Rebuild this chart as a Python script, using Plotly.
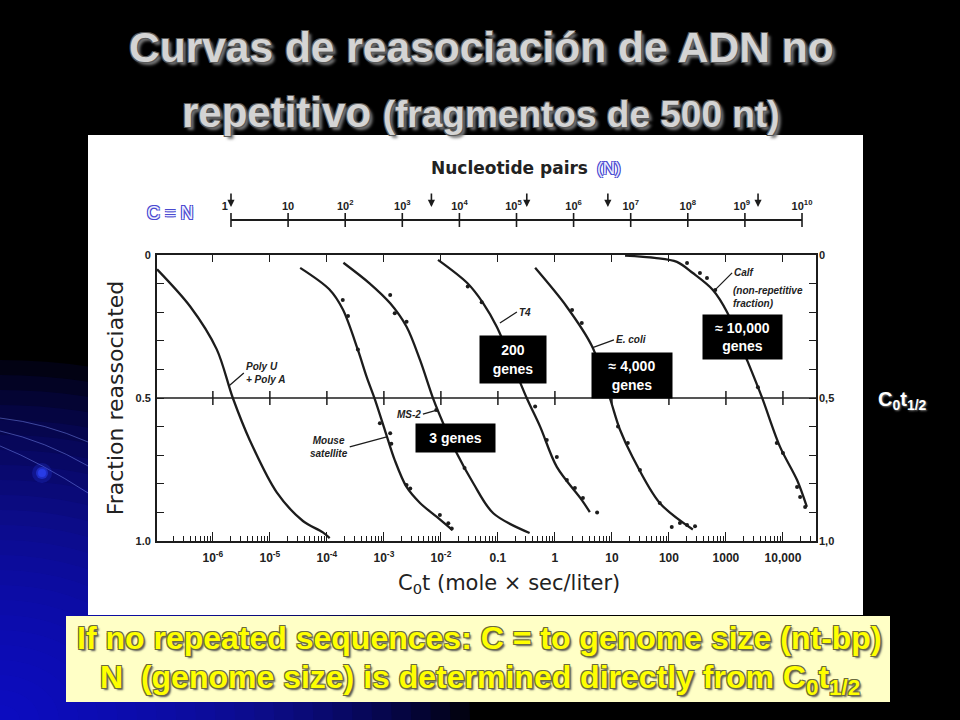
import plotly.graph_objects as go

W, H = 960, 720


def pxp(x):
    return x / W


def pyp(y):
    return 1 - y / H


# ---------------- data ----------------
cot_tick_vals = [1e-6, 1e-5, 1e-4, 1e-3, 1e-2, 0.1, 1, 10, 100, 1000, 10000]
cot_tick_text = ["10<sup>-6</sup>", "10<sup>-5</sup>", "10<sup>-4</sup>", "10<sup>-3</sup>",
                 "10<sup>-2</sup>", "0.1", "1", "10", "100", "1000", "10,000"]

n_tick_vals = [1, 1e1, 1e2, 1e3, 1e4, 1e5, 1e6, 1e7, 1e8, 1e9, 1e10]
n_tick_text = ["1\u00a0\u00a0\u00a0\u00a0", "10", "10<sup>2</sup>", "10<sup>3</sup>", "10<sup>4</sup>",
               "10<sup>5</sup>\u00a0\u00a0", "10<sup>6</sup>", "10<sup>7</sup>", "10<sup>8</sup>",
               "10<sup>9</sup>\u00a0\u00a0", "10<sup>10</sup>"]

frac_tick_vals = [0, 0.5, 1.0]
frac_tick_text_left = ["0", "0.5", "1.0"]
frac_tick_text_right = ["0", "0,5", "1,0"]

# genome-size arrows on the nucleotide-pair scale (log10 N)
genome_arrow_log10N = [0.0, 3.51, 5.18, 6.60, 9.23]

polyU_cot = [1.05e-7, 4.0e-7, 1.17e-6, 2.24e-6, 4.5e-6, 1.32e-5, 3.8e-5, 8.5e-5, 1.12e-4]
polyU_frac = [0.05, 0.18, 0.33, 0.50, 0.65, 0.83, 0.93, 0.97, 0.99]

mouse_cot = [3.4e-5, 1.1e-4, 1.9e-4, 3.5e-4, 5.0e-4, 6.9e-4, 1.04e-3, 1.55e-3,
             2.5e-3, 4.3e-3, 8.5e-3, 1.6e-2]
mouse_frac = [0.045, 0.12, 0.19, 0.332, 0.427, 0.503, 0.612, 0.717,
              0.811, 0.867, 0.916, 0.962]

ms2_cot = [1.95e-4, 5.6e-4, 1.29e-3, 2.5e-3, 4.3e-3, 7.4e-3, 1.1e-2, 1.9e-2, 3.7e-2, 8.3e-2, 0.36]
ms2_frac = [0.027, 0.099, 0.169, 0.251, 0.367, 0.505, 0.589, 0.693, 0.798, 0.903, 0.972]

t4_cot = [8.9e-3, 2.9e-2, 5.5e-2, 9.6e-2, 0.32, 0.55, 1.08, 2.97, 4.1]
t4_frac = [0.017, 0.098, 0.168, 0.252, 0.50, 0.60, 0.741, 0.857, 0.899]

ecoli_cot = [0.45, 1.6, 4.5, 9.2, 13.8, 23, 69, 263]
ecoli_frac = [0.045, 0.18, 0.32, 0.50, 0.61, 0.706, 0.867, 0.96]

calf_cot = [17, 56, 138, 263, 590, 1050, 2340, 4270, 8900, 17700, 26300]
calf_frac = [0.002, 0.01, 0.024, 0.063, 0.122, 0.20, 0.367, 0.497, 0.671, 0.787, 0.881]

# measured points (dots)
dots_cot = [1.9e-4, 2.35e-4, 3.5e-4, 8.5e-4, 1.29e-3, 1.35e-3, 2.5e-3, 2.9e-3, 9.6e-3, 1.35e-2, 1.55e-2,
            1.29e-3, 1.55e-3, 2.5e-3, 8.3e-3, 2.6e-2,
            2.96e-2, 5.2e-2, 0.45, 0.72, 1.08, 1.62, 2.24, 3.1, 5.5,
            2.0, 2.96, 12.8, 19, 31, 69, 112, 156, 208, 287,
            208, 350, 465, 650, 3640, 7800, 10000, 17700, 20000, 24500]
dots_frac = [0.157, 0.213, 0.33, 0.588, 0.623, 0.66, 0.804, 0.816, 0.909, 0.938, 0.956,
             0.14, 0.204, 0.233, 0.542, 0.745,
             0.11, 0.165, 0.53, 0.647, 0.706, 0.787, 0.815, 0.85, 0.90,
             0.192, 0.238, 0.60, 0.657, 0.752, 0.867, 0.951, 0.937, 0.944, 0.948,
             0.028, 0.063, 0.08, 0.122, 0.462, 0.657, 0.692, 0.811, 0.846, 0.881]

# ---------------- figure ----------------
ink = "#1c1c1c"
txt = "#222222"
base_font = "Liberation Sans, Arial, sans-serif"
hand_font = "DejaVu Sans, Noto Sans, sans-serif"

fig = go.Figure()

for cx, cy in [(polyU_cot, polyU_frac), (mouse_cot, mouse_frac), (ms2_cot, ms2_frac),
               (t4_cot, t4_frac), (ecoli_cot, ecoli_frac), (calf_cot, calf_frac)]:
    fig.add_trace(go.Scatter(x=cx, y=cy, mode="lines",
                             line=dict(color=ink, width=2.3, shape="spline", smoothing=0.9),
                             hoverinfo="skip", showlegend=False))

fig.add_trace(go.Scatter(x=dots_cot, y=dots_frac, mode="markers",
                         marker=dict(color=ink, size=4), hoverinfo="skip", showlegend=False))

# ticks crossing the 0.5 line
fig.add_trace(go.Scatter(x=cot_tick_vals, y=[0.5] * len(cot_tick_vals), mode="markers",
                         marker=dict(symbol="line-ns", size=10, line=dict(color=ink, width=1.5)),
                         hoverinfo="skip", showlegend=False, cliponaxis=False))

# dummy traces so that the overlay axes are drawn
fig.add_trace(go.Scatter(x=[1], y=[0.5], xaxis="x2", yaxis="y", mode="markers",
                         marker=dict(opacity=0), hoverinfo="skip", showlegend=False))
fig.add_trace(go.Scatter(x=[1], y=[0.5], xaxis="x", yaxis="y2", mode="markers",
                         marker=dict(opacity=0), hoverinfo="skip", showlegend=False))

# nucleotide pair scale
fig.add_trace(go.Scatter(x=n_tick_vals, y=[0] * len(n_tick_vals), xaxis="x3", yaxis="y3",
                         mode="lines+markers", line=dict(color=ink, width=2),
                         marker=dict(symbol="line-ns", size=10, line=dict(color=ink, width=1.6)),
                         hoverinfo="skip", showlegend=False, cliponaxis=False))

x_range = [-6.98, 4.58]
x_dom = [pxp(157), pxp(816)]
y_dom = [pyp(541), pyp(255)]

tickfont = dict(family=base_font, size=11, color=txt, weight="bold")

fig.update_layout(
    width=W, height=H,
    margin=dict(l=0, r=0, t=0, b=0),
    paper_bgcolor="black",
    plot_bgcolor="rgba(0,0,0,0)",
    showlegend=False,
    xaxis=dict(type="log", range=x_range, domain=x_dom, anchor="y",
               showline=True, mirror=True, linecolor=ink, linewidth=1.8,
               ticks="inside", ticklen=9, tickwidth=1.4, tickcolor=ink,
               tickmode="array", tickvals=cot_tick_vals, ticktext=cot_tick_text,
               tickfont=dict(family=base_font, size=12, color=txt, weight="bold"), ticklabelstandoff=5,
               minor=dict(ticks="inside", ticklen=5, tickwidth=1.1, tickcolor=ink, dtick="D1", showgrid=False),
               showgrid=False, zeroline=False, automargin=False),
    xaxis2=dict(type="log", range=x_range, domain=x_dom, anchor="y", overlaying="x", side="top",
                ticks="inside", ticklen=7, tickwidth=1.4, tickcolor=ink,
                tickmode="array", tickvals=cot_tick_vals, showticklabels=False,
                showline=False, showgrid=False, zeroline=False, automargin=False),
    yaxis=dict(range=[1.0, 0.0], domain=y_dom, anchor="x",
               showline=True, mirror=True, linecolor=ink, linewidth=1.8,
               ticks="inside", ticklen=7, tickwidth=1.4, tickcolor=ink,
               tickmode="array", tickvals=frac_tick_vals, ticktext=frac_tick_text_left,
               tickfont=tickfont, ticklabelstandoff=2,
               minor=dict(ticks="inside", ticklen=7, tickwidth=1.4, tickcolor=ink, dtick=0.1, tick0=0,
                          showgrid=False),
               showgrid=False, zeroline=False, automargin=False,
               title=dict(text="Fraction reassociated",
                          font=dict(family=hand_font, size=22, color=txt), standoff=6)),
    yaxis2=dict(range=[1.0, 0.0], domain=y_dom, anchor="x", overlaying="y", side="right",
                ticks="inside", ticklen=7, tickwidth=1.4, tickcolor=ink,
                tickmode="array", tickvals=frac_tick_vals, ticktext=frac_tick_text_right,
                tickfont=tickfont, ticklabelstandoff=2,
                minor=dict(ticks="inside", ticklen=7, tickwidth=1.4, tickcolor=ink, dtick=0.1, tick0=0,
                           showgrid=False),
                showline=False, showgrid=False, zeroline=False, automargin=False),
    xaxis3=dict(type="log", range=[-0.175, 10.175], domain=[pxp(221), pxp(812)], anchor="y3",
                side="top", ticks="", tickmode="array", tickvals=n_tick_vals, ticktext=n_tick_text,
                tickfont=dict(family=base_font, size=11, color=txt, weight="bold"),
                ticklabelstandoff=2,
                showline=False, showgrid=False, zeroline=False, automargin=False),
    yaxis3=dict(range=[-1, 1], domain=[pyp(225), pyp(215)], anchor="x3", visible=False),
)

# ---------------- background decorations ----------------
shapes = []
n_layers = 24
for i in range(n_layers):
    f = 1 - i / n_layers
    rx, ry = 470 * f, 360 * f
    shapes.append(dict(type="circle", xref="paper", yref="paper",
                       x0=-rx / W, x1=rx / W, y0=-ry / H, y1=ry / H,
                       fillcolor="rgb(25,25,225)", opacity=0.085, line=dict(width=0), layer="below"))


def qpath(p0, c, p1):
    return "M {:.4f},{:.4f} Q {:.4f},{:.4f} {:.4f},{:.4f}".format(
        pxp(p0[0]), pyp(p0[1]), pxp(c[0]), pyp(c[1]), pxp(p1[0]), pyp(p1[1]))


for (p0, c, p1) in [((0, 418), (45, 423), (88, 442)),
                    ((0, 431), (45, 441), (88, 466)),
                    ((0, 446), (40, 462), (88, 493))]:
    shapes.append(dict(type="path", xref="paper", yref="paper", path=qpath(p0, c, p1),
                       line=dict(color="rgba(130,150,255,0.45)", width=1), layer="below"))
# glowing dot
for r, op in [(10, 0.25), (6, 0.6), (4, 1.0)]:
    shapes.append(dict(type="circle", xref="paper", yref="paper",
                       x0=pxp(42 - r), x1=pxp(42 + r), y0=pyp(473 + r), y1=pyp(473 - r),
                       fillcolor="rgb(40,60,230)", opacity=op, line=dict(width=0), layer="below"))

# white image area
shapes.append(dict(type="rect", xref="paper", yref="paper",
                   x0=pxp(88), x1=pxp(863), y0=pyp(615), y1=pyp(135),
                   fillcolor="white", line=dict(width=0), layer="below"))
# yellow note box
shapes.append(dict(type="rect", xref="paper", yref="paper",
                   x0=pxp(66), x1=pxp(890), y0=pyp(702), y1=pyp(616),
                   fillcolor="#ffffc6", line=dict(width=0), layer="below"))
# 0.5 line
shapes.append(dict(type="line", xref="x domain", yref="y", x0=0, x1=1, y0=0.5, y1=0.5,
                   line=dict(color=ink, width=1.6), layer="above"))

fig.update_layout(shapes=shapes)

# ---------------- annotations ----------------
ann = []


def ptext(x, y, text, font, xanchor="center", align="center"):
    return dict(xref="paper", yref="paper", x=pxp(x), y=pyp(y), text=text, showarrow=False,
                xanchor=xanchor, yanchor="middle", align=align, font=font)


title_shadow = ("-1px -1px 0 #5a5a5a, 1px -1px 0 #5a5a5a, -1px 1px 0 #5a5a5a, "
                "1px 1px 0 #5a5a5a, 3px 3px 3px #777777")
ann.append(ptext(481, 48, "Curvas de reasociación de ADN no",
                 dict(family=base_font, size=42.5, color="#d4d4d4", weight="bold", shadow=title_shadow)))
ann.append(ptext(481, 112, "repetitivo <span style='font-size:37px'>(fragmentos de 500 nt)</span>",
                 dict(family=base_font, size=42, color="#d4d4d4", weight="bold", shadow=title_shadow)))

# x-axis title (placed like in the original figure, slightly right of the axis centre)
ann.append(ptext(509, 584, "C<sub>0</sub>t (mole × sec/liter)",
                 dict(family=hand_font, size=21, color=txt)))

blue_outline = ("-1px -1px 0 #4a4ad0, 1px -1px 0 #4a4ad0, -1px 1px 0 #4a4ad0, 1px 1px 0 #4a4ad0")
ann.append(ptext(590, 168, "Nucleotide pairs",
                 dict(family=hand_font, size=17, color=txt, weight="bold"), xanchor="right"))
ann.append(ptext(595, 168, "(N)",
                 dict(family=base_font, size=17, color="#eef0ff", shadow=blue_outline), xanchor="left"))
ann.append(ptext(170, 213, "C = N",
                 dict(family=base_font, size=18, color="#eef0ff", shadow=blue_outline)))

for lg in genome_arrow_log10N:
    ann.append(dict(xref="x3", yref="paper", x=lg, y=pyp(207), ax=0, ay=-15, text="",
                    showarrow=True, arrowhead=2, arrowsize=0.9, arrowwidth=1.6, arrowcolor=ink))

label_font = dict(family=base_font, size=10, color=txt, weight="bold", style="italic")
# curve labels with leaders (arrow head at the curve, log10 x for log axis)
ann.append(dict(xref="x", yref="y", x=-5.72, y=0.458, ax=15, ay=-13, xanchor="left", align="left",
                text="Poly U<br>+ Poly A", showarrow=True, arrowhead=0, arrowwidth=1.3,
                arrowcolor=ink, font=label_font))
ann.append(dict(xref="x", yref="y", x=-2.95, y=0.636, ax=-37, ay=10, xanchor="right", align="center",
                text="Mouse<br>satellite", showarrow=True, arrowhead=0, arrowwidth=1.3,
                arrowcolor=ink, font=label_font))
ann.append(dict(xref="x", yref="y", x=-2.07, y=0.542, ax=-14, ay=4, xanchor="right",
                text="MS-2", showarrow=True, arrowhead=0, arrowwidth=1.3,
                arrowcolor=ink, font=label_font))
ann.append(dict(xref="x", yref="y", x=-0.965, y=0.238, ax=17, ay=-11, xanchor="left",
                text="T4", showarrow=True, arrowhead=0, arrowwidth=1.3,
                arrowcolor=ink, font=label_font))
ann.append(dict(xref="x", yref="y", x=0.65, y=0.325, ax=22, ay=-8, xanchor="left",
                text="E. coli", showarrow=True, arrowhead=0, arrowwidth=1.3,
                arrowcolor=ink, font=label_font))
ann.append(dict(xref="x", yref="y", x=2.81, y=0.122, ax=17, ay=-17, xanchor="left",
                text="Calf", showarrow=True, arrowhead=0, arrowwidth=1.3,
                arrowcolor=ink, font=label_font))
ann.append(ptext(731, 297, "(non-repetitive<br>fraction)", label_font, xanchor="left", align="left"))

box_font = dict(family=base_font, size=14, color="white", weight="bold")
for (lx, fy, t, w, h) in [(-1.737, 0.640, "3 genes", 79, 28),
                          (-0.737, 0.364, "200<br>genes", 66, 47),
                          (1.351, 0.420, "≈ 4,000<br>genes", 80, 45),
                          (3.298, 0.287, "≈ 10,000<br>genes", 79, 44)]:
    ann.append(dict(xref="x", yref="y", x=lx, y=fy, text=t, showarrow=False, bgcolor="black",
                    xanchor="center", yanchor="middle",
                    width=w, height=h, borderpad=0, align="center", font=box_font))

ann.append(ptext(902, 400, "C<sub>0</sub>t<sub>1/2</sub>",
                 dict(family=base_font, size=20, color="white", weight="bold",
                      shadow="1px 1px 2px #777777")))

yellow_shadow = ("-1px -1px 0 #6a6a40, 1px -1px 0 #6a6a40, -1px 1px 0 #6a6a40, "
                 "1px 1px 0 #6a6a40, 2px 2px 2px #555555")
ann.append(ptext(479, 638, "If no repeated sequences: C = to genome size (nt-bp)",
                 dict(family=base_font, size=32, color="#ffff00", weight="bold", shadow=yellow_shadow)))
ann.append(ptext(480, 679, "N\u00a0 (genome size) is determined directly from C<sub>0</sub>t<sub>1/2</sub>",
                 dict(family=base_font, size=32, color="#ffff00", weight="bold", shadow=yellow_shadow)))

fig.update_layout(annotations=ann)

fig.write_html("out.html", config={"displayModeBar": False},
               post_script="document.body.style.margin='0px';document.body.style.background='black';")
